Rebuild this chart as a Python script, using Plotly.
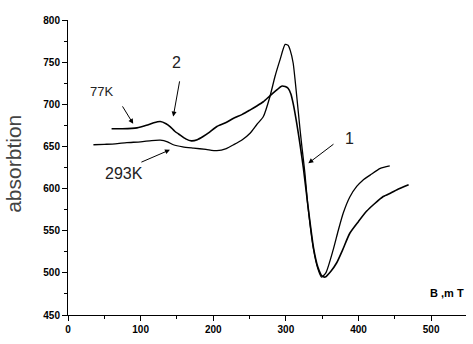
import plotly.graph_objects as go

# Curve recorded at 293 K
x_293 = [35, 50, 65, 81, 100, 115, 127, 137, 145, 158, 173, 190, 205, 218, 228, 240, 251, 260,
         269, 278, 285, 292, 299, 303, 306, 310, 315, 319.5, 322, 326, 330, 338, 344, 349,
         355, 365, 372, 379, 388, 397.5, 406, 416, 430, 443]
y_293 = [652, 652.5, 653, 654.5, 655.5, 657, 657.5, 655.5, 652, 649.5, 648, 646.5, 645, 647.5,
         652, 658, 666, 676, 685.5, 709, 733, 753, 771, 770, 764, 749, 709, 670, 650, 620, 582,
         528, 505, 495, 500, 527, 550, 571, 590, 602.5, 610, 616, 624, 627]

# Curve recorded at 77 K
x_77 = [60, 75, 95, 108, 118, 127, 135, 140.5, 147, 154, 162, 170, 178, 186, 195, 205, 217, 228,
        240, 251, 260, 269, 278, 287.5, 294, 299, 303, 307, 310, 315, 319.5, 324, 330, 338, 344,
        350, 354, 362, 370, 378, 388, 400, 411, 422, 434, 445, 453, 469]
y_77 = [671, 671, 672, 675, 678, 679.5, 677, 673.6, 668, 663.7, 659, 656.6, 658, 661.8, 667, 673.6,
        678, 683.5, 688, 693.4, 698, 703, 710, 717, 721.5, 721, 719, 712, 701, 677, 652, 625, 582,
        530, 507, 496, 495, 502, 512, 527, 547, 561, 573, 582, 590.6, 595, 598.6, 604.5]

x_ticks = [0, 100, 200, 300, 400, 500]
y_ticks = [450, 500, 550, 600, 650, 700, 750, 800]

fig = go.Figure()
fig.add_trace(go.Scatter(x=x_293, y=y_293, mode="lines", name="293K",
                         line=dict(color="black", width=1.3, shape="spline", smoothing=0.6)))
fig.add_trace(go.Scatter(x=x_77, y=y_77, mode="lines", name="77K",
                         line=dict(color="black", width=1.6, shape="spline", smoothing=0.6)))

axis_common = dict(showgrid=False, zeroline=False, showline=True, linecolor="black", linewidth=1,
                   ticks="outside", ticklen=5, tickwidth=1, tickcolor="black",
                   tickfont=dict(family="Liberation Sans, Arial", size=10, color="black", weight="bold"),
                   mirror=False)

fig.update_xaxes(range=[0, 548], tickvals=x_ticks, ticktext=[str(v) for v in x_ticks],
                 minor=dict(dtick=50, tick0=0, ticks="outside", ticklen=3, tickcolor="black"),
                 **axis_common)
fig.update_yaxes(range=[450, 800], tickvals=y_ticks, ticktext=[str(v) for v in y_ticks],
                 minor=dict(dtick=25, tick0=0, ticks="outside", ticklen=3, tickcolor="black"),
                 **axis_common)

arrows = [
    # head x, head y, tail x, tail y
    (89.8, 676.8, 73.8, 699.3),
    (144.9, 685.4, 154, 729),
    (140.4, 646, 99, 630.6),
    (330.9, 630, 367.6, 654),
]
for hx, hy, tx, ty in arrows:
    fig.add_annotation(x=hx, y=hy, ax=tx, ay=ty, xref="x", yref="y", axref="x", ayref="y",
                       showarrow=True, arrowhead=2, arrowsize=1, arrowwidth=1, arrowcolor="black",
                       text="")

labels = [
    ("77K", 46.8, 714.7, 13),
    ("2", 150, 749, 16),
    ("293K", 77, 617.5, 16),
    ("1", 388, 660, 16),
]
for t, lx, ly, sz in labels:
    fig.add_annotation(x=lx, y=ly, xref="x", yref="y", text=t, showarrow=False,
                       font=dict(family="Liberation Sans, Arial", size=sz, color="#222"))

fig.add_annotation(x=1.0, y=0.075, xref="paper", yref="paper", text="B ,m T", showarrow=False,
                   xanchor="right", yanchor="middle",
                   font=dict(family="Liberation Sans, Arial", size=11, color="black", weight="bold"))

fig.add_annotation(x=-0.136, y=0.512, xref="paper", yref="paper", text="absorbtion",
                   textangle=-90, showarrow=False, xanchor="center", yanchor="middle",
                   font=dict(family="Liberation Sans, Arial", size=21, color="#444"))

fig.update_layout(width=473, height=344, margin=dict(l=68, r=7, t=20, b=29),
                  plot_bgcolor="white", paper_bgcolor="white", showlegend=False)

fig.write_html("out.html", config={"displayModeBar": False},
               post_script="document.body.style.margin='0px';document.body.style.overflow='hidden';")
